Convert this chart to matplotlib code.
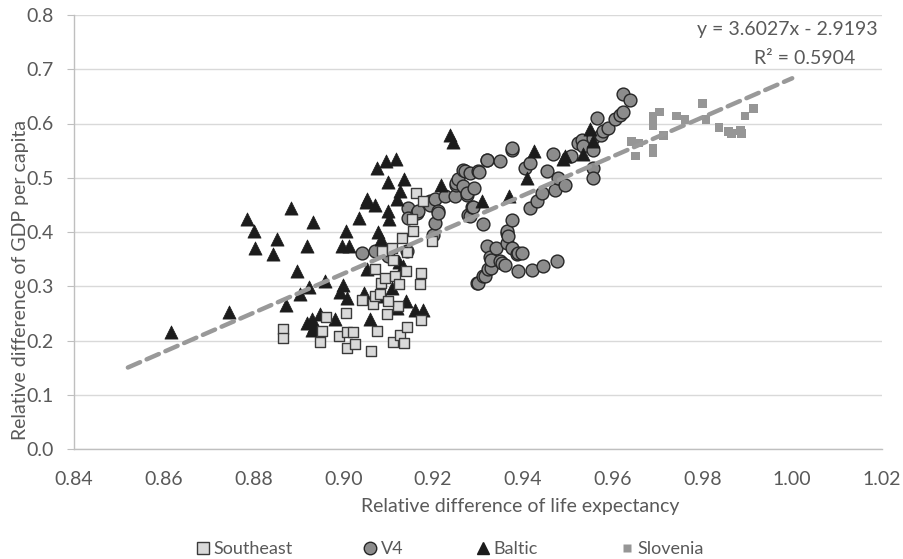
import matplotlib
matplotlib.use("Agg")
import matplotlib.pyplot as plt
from matplotlib.lines import Line2D

plt.rcParams['font.family'] = ['Lato', 'DejaVu Sans']

# ---------------- data ----------------
southeast_x = [0.8866, 0.8866, 0.8948, 0.8952, 0.8961, 0.8991, 0.9006, 0.9009, 0.9009, 0.9022,
               0.9026, 0.9041, 0.9061, 0.9067, 0.9071, 0.9071, 0.9076, 0.9085, 0.9086, 0.9093,
               0.9097, 0.9108, 0.9110, 0.9111, 0.9115, 0.9122, 0.9126, 0.9135, 0.9140, 0.9141,
               0.9141, 0.9130, 0.9152, 0.9156, 0.9162, 0.9171, 0.9172, 0.9172, 0.9178, 0.9197,
               0.9082, 0.9100, 0.9125]
southeast_y = [0.221, 0.204, 0.197, 0.218, 0.243, 0.208, 0.251, 0.216, 0.187, 0.215,
               0.193, 0.275, 0.181, 0.267, 0.282, 0.331, 0.218, 0.306, 0.365, 0.316,
               0.248, 0.371, 0.197, 0.349, 0.319, 0.264, 0.210, 0.196, 0.328, 0.363,
               0.224, 0.389, 0.424, 0.401, 0.472, 0.305, 0.324, 0.238, 0.457, 0.383,
               0.285, 0.272, 0.305]

v4_x = [0.9041, 0.9071, 0.9100, 0.9141, 0.9145, 0.9145, 0.9163, 0.9167, 0.9192, 0.9193,
        0.9200, 0.9204, 0.9204, 0.9212, 0.9212, 0.9226, 0.9249, 0.9252, 0.9252, 0.9256,
        0.9267, 0.9267, 0.9271, 0.9275, 0.9275, 0.9278, 0.9282, 0.9282, 0.9286, 0.9288,
        0.9290, 0.9297, 0.9300, 0.9301, 0.9303, 0.9312, 0.9312, 0.9316, 0.9319, 0.9319,
        0.9321, 0.9323, 0.9327, 0.9330, 0.9330, 0.9341, 0.9349, 0.9349, 0.9353, 0.9360,
        0.9364, 0.9364, 0.9364, 0.9367, 0.9375, 0.9375, 0.9375, 0.9375, 0.9386, 0.9390,
        0.9390, 0.9397, 0.9405, 0.9416, 0.9416, 0.9420, 0.9431, 0.9442, 0.9445, 0.9453,
        0.9468, 0.9471, 0.9477, 0.9479, 0.9494, 0.9508, 0.9523, 0.9531, 0.9535, 0.9557,
        0.9557, 0.9557, 0.9557, 0.9564, 0.9575, 0.9578, 0.9590, 0.9605, 0.9616, 0.9624,
        0.9622, 0.9639]
v4_y = [0.362, 0.365, 0.355, 0.365, 0.444, 0.426, 0.435, 0.438, 0.457, 0.450,
        0.395, 0.417, 0.460, 0.438, 0.435, 0.466, 0.466, 0.487, 0.490, 0.497,
        0.515, 0.484, 0.512, 0.469, 0.472, 0.432, 0.509, 0.429, 0.447, 0.446,
        0.481, 0.306, 0.512, 0.306, 0.510, 0.414, 0.319, 0.319, 0.374, 0.533,
        0.533, 0.331, 0.353, 0.334, 0.349, 0.371, 0.530, 0.346, 0.343, 0.340,
        0.398, 0.402, 0.380, 0.392, 0.552, 0.555, 0.423, 0.371, 0.359, 0.362,
        0.328, 0.362, 0.518, 0.527, 0.444, 0.330, 0.457, 0.472, 0.337, 0.512,
        0.544, 0.478, 0.346, 0.500, 0.487, 0.541, 0.564, 0.570, 0.558, 0.573,
        0.552, 0.518, 0.500, 0.610, 0.579, 0.586, 0.592, 0.608, 0.616, 0.622,
        0.655, 0.644]

baltic_x = [0.8616, 0.8745, 0.8786, 0.8800, 0.8803, 0.8844, 0.8853, 0.8872, 0.8883, 0.8897,
            0.8903, 0.8919, 0.8924, 0.8932, 0.8930, 0.8930, 0.8948, 0.8959, 0.8981, 0.8993,
            0.8996, 0.8999, 0.9007, 0.9009, 0.9013, 0.9036, 0.9046, 0.9053, 0.9053, 0.9060,
            0.9071, 0.9074, 0.9078, 0.9083, 0.9089, 0.9095, 0.9100, 0.9100, 0.9102, 0.9108,
            0.9117, 0.9120, 0.9120, 0.9126, 0.9134, 0.9135, 0.9140, 0.9160, 0.9177, 0.9217,
            0.9238, 0.9245, 0.9308, 0.9370, 0.9410, 0.9425, 0.9489, 0.9494, 0.9533, 0.9550,
            0.9556, 0.8920, 0.8935, 0.9125, 0.9050]
baltic_y = [0.215, 0.252, 0.424, 0.401, 0.371, 0.359, 0.388, 0.266, 0.445, 0.328,
            0.285, 0.374, 0.298, 0.418, 0.239, 0.220, 0.248, 0.310, 0.239, 0.289,
            0.375, 0.303, 0.401, 0.279, 0.375, 0.426, 0.288, 0.461, 0.331, 0.240,
            0.449, 0.518, 0.400, 0.387, 0.282, 0.530, 0.493, 0.438, 0.424, 0.297,
            0.535, 0.460, 0.259, 0.475, 0.337, 0.497, 0.273, 0.257, 0.257, 0.486,
            0.578, 0.566, 0.457, 0.466, 0.500, 0.549, 0.535, 0.540, 0.543, 0.589,
            0.567, 0.232, 0.226, 0.345, 0.455]

slovenia_x = [0.9642, 0.9650, 0.9657, 0.9690, 0.9690, 0.9690, 0.9690, 0.9705, 0.9713, 0.9742,
              0.9761, 0.9800, 0.9808, 0.9837, 0.9858, 0.9865, 0.9884, 0.9887, 0.9895, 0.9913]
slovenia_y = [0.567, 0.540, 0.564, 0.613, 0.596, 0.555, 0.547, 0.621, 0.578, 0.614,
              0.608, 0.637, 0.608, 0.592, 0.585, 0.582, 0.587, 0.582, 0.614, 0.628]

trend_slope = 3.6027
trend_intercept = -2.9193
trend_x = [0.852, 1.0]
equation_text = "y = 3.6027x - 2.9193"
r2_text = "R² = 0.5904"

series_names = ["Southeast", "V4", "Baltic", "Slovenia"]
x_ticks = [0.84, 0.86, 0.88, 0.90, 0.92, 0.94, 0.96, 0.98, 1.00, 1.02]
y_ticks = [0.0, 0.1, 0.2, 0.3, 0.4, 0.5, 0.6, 0.7, 0.8]

# ---------------- figure ----------------
TXT = '#595959'
FS = 14
W, H = 904, 559
fig = plt.figure(figsize=(W / 100, H / 100), dpi=100)
ax = fig.add_axes([74/W, 1-449/H, (882-74)/W, (449-15)/H])

ax.scatter(v4_x, v4_y, s=85, marker='o', facecolor='#8c8c8c', edgecolor='#262626',
           linewidths=1.0, zorder=3)
ax.scatter(baltic_x, baltic_y, s=90, marker='^', facecolor='#1c1c1c', edgecolor='#1c1c1c',
           linewidths=0.5, zorder=4)
ax.scatter(southeast_x, southeast_y, s=62, marker='s', facecolor='#d9d9d9', edgecolor='#3a3a3a',
           linewidths=1.0, zorder=5)
ax.scatter(slovenia_x, slovenia_y, s=40, marker='s', facecolor='#969696', edgecolor='none',
           zorder=6)

ty = [trend_slope * x + trend_intercept for x in trend_x]
ax.plot(trend_x, ty, color='#999999', lw=3.2, ls=(0, (3, 1.6)), solid_capstyle='round',
        dash_capstyle='round', zorder=7)

ax.set_xlim(0.84, 1.02)
ax.set_ylim(0.0, 0.8)
ax.set_xticks(x_ticks)
ax.set_xticklabels([f"{v:.2f}" for v in x_ticks])
ax.set_yticks(y_ticks)
ax.set_yticklabels([f"{v:.1f}" for v in y_ticks])
ax.grid(axis='y', color='#d9d9d9', lw=1.0, zorder=0)
ax.set_axisbelow(True)
for s in ['top', 'right']:
    ax.spines[s].set_visible(False)
for s in ['left', 'bottom']:
    ax.spines[s].set_color('#bfbfbf')
    ax.spines[s].set_linewidth(1.0)
ax.tick_params(axis='x', length=0, pad=16, labelsize=FS, labelcolor=TXT)
ax.tick_params(axis='y', length=5, color='#bfbfbf', pad=9.5, labelsize=FS, labelcolor=TXT)

ax.set_xlabel("Relative difference of life expectancy", fontsize=FS, color=TXT, labelpad=4)
ax.xaxis.set_label_coords((520 - 74) / 808, -(512 - 449) / 434)
ax.xaxis.label.set_verticalalignment('baseline')
ax.set_ylabel("Relative difference of GDP per capita", fontsize=FS, color=TXT, labelpad=0)
ax.yaxis.set_label_coords((29 - 74) / 808, (449 - 280) / 434)

fig.text(878/W, 1-30/H, equation_text, ha='right', va='center', fontsize=FS, color=TXT)
fig.text(805/W, 1-58/H, r2_text, ha='center', va='center', fontsize=FS, color=TXT)

handles = [
    Line2D([], [], ls='none', marker='s', markersize=8, markerfacecolor='#d9d9d9',
           markeredgecolor='#3a3a3a', markeredgewidth=1.0),
    Line2D([], [], ls='none', marker='o', markersize=9, markerfacecolor='#8c8c8c',
           markeredgecolor='#262626', markeredgewidth=1.0),
    Line2D([], [], ls='none', marker='^', markersize=9, markerfacecolor='#1c1c1c',
           markeredgecolor='#1c1c1c'),
    Line2D([], [], ls='none', marker='s', markersize=6, markerfacecolor='#969696',
           markeredgecolor='none'),
]
LFS = 13
legend_marker_px = [203, 370, 483, 627]
half_handle_px = LFS * 1.0 / 72 * 100 / 2
for h, name, mx in zip(handles, series_names, legend_marker_px):
    lg = fig.legend([h], [name], loc='center left',
                    bbox_to_anchor=((mx - half_handle_px) / W, 1 - 549 / H),
                    frameon=False, fontsize=LFS, handletextpad=0.1, handlelength=1.0,
                    borderpad=0, borderaxespad=0)
    for t in lg.get_texts():
        t.set_color(TXT)

fig.savefig("out.png", dpi=100)
